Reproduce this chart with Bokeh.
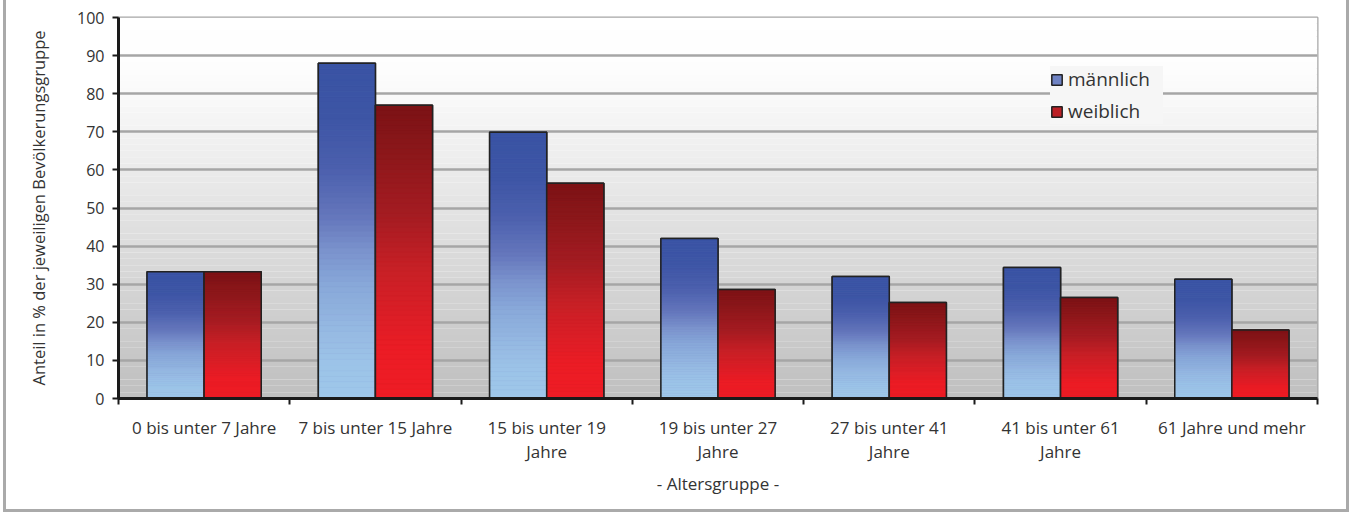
import numpy as np
from bokeh.plotting import figure
from bokeh.models import Range1d, FixedTicker, BoxAnnotation, Legend, LegendItem
from bokeh.embed import file_html
from bokeh.resources import INLINE

# ---------------- data ----------------
categories = [
    "0 bis unter 7 Jahre",
    "7 bis unter 15 Jahre",
    "15 bis unter 19\nJahre",
    "19 bis unter 27\nJahre",
    "27 bis unter 41\nJahre",
    "41 bis unter 61\nJahre",
    "61 Jahre und mehr",
]
maennlich = [33.3, 88.0, 69.9, 42.0, 32.0, 34.4, 31.3]
weiblich = [33.3, 77.0, 56.5, 28.6, 25.2, 26.5, 18.0]
series_names = ["männlich", "weiblich"]
y_ticks = [0, 10, 20, 30, 40, 50, 60, 70, 80, 90, 100]
x_title = "- Altersgruppe -"
y_title = "Anteil in % der jeweiligen Bevölkerungsgruppe"

# ---------------- style ----------------
FONT = "Open Sans"
TEXT = "#333333"
blue_stops = [(0.0, "#9fc7ea"), (0.1, "#9cc4e8"), (0.19, "#97bbe3"), (0.34, "#88a8d9"),
              (0.44, "#7b93cd"), (0.54, "#6577bc"), (0.69, "#4b5fad"), (0.84, "#3d55a5"),
              (1.0, "#3953a4")]
red_stops = [(0.0, "#ee1c25"), (0.16, "#ec1c25"), (0.28, "#dc1e26"), (0.45, "#c62026"),
             (0.62, "#a51c22"), (0.85, "#8a171a"), (1.0, "#7b1215")]
bg_stops = [(0.0, "#bfbfbf"), (0.85, "#fdfdfd"), (1.0, "#ffffff")]


def hex2rgb(h):
    return np.array([int(h[i:i + 2], 16) for i in (1, 3, 5)], dtype=float)


def interp(stops, f):
    for (f0, c0), (f1, c1) in zip(stops[:-1], stops[1:]):
        if f0 <= f <= f1:
            t = 0 if f1 == f0 else (f - f0) / (f1 - f0)
            c = hex2rgb(c0) * (1 - t) + hex2rgb(c1) * t
            return "#%02x%02x%02x" % tuple(int(round(v)) for v in c)
    return stops[-1][1]


n = len(categories)
centers = [i + 0.5 for i in range(n)]
bounds = list(range(n + 1))
bar_w = 1.0 / 3.0

p = figure(width=1346, height=512, output_backend="svg", toolbar_location=None,
           x_range=Range1d(0, n), y_range=Range1d(y_ticks[0], y_ticks[-1]),
           min_border_left=112, min_border_right=35, min_border_top=17, min_border_bottom=114,
           background_fill_color="#ffffff", border_fill_color="#ffffff",
           styles={"margin-left": "3px",
                   "border-left": "3px solid #aaaaaa", "border-right": "3px solid #aaaaaa",
                   "border-bottom": "3px solid #aaaaaa"})
p.outline_line_color = "#a6a6a6"
p.outline_line_width = 2

# background gradient
NB = 60
ymin, ymax = y_ticks[0], y_ticks[-1]
for k in range(NB):
    b = ymin + (ymax - ymin) * k / NB
    t = ymin + (ymax - ymin) * (k + 1) / NB
    p.add_layout(BoxAnnotation(bottom=b, top=t, fill_color=interp(bg_stops, (k + 0.5) / NB),
                               fill_alpha=1.0, line_alpha=0, level="image"))

# bars with gradient
legend_items = []
NS = 60
for s, (vals, stops, off, name) in enumerate(zip([maennlich, weiblich], [blue_stops, red_stops],
                                                  [-bar_w / 2, bar_w / 2], series_names)):
    xs = [c + off for c in centers]
    base = p.vbar(x=xs, top=vals, width=bar_w, bottom=0,
                  fill_color=interp(stops, 0.5), line_color="#222222", line_width=1.5)
    L, R, B, T, C = [], [], [], [], []
    for x, v in zip(xs, vals):
        for k in range(NS):
            L.append(x - bar_w / 2)
            R.append(x + bar_w / 2)
            B.append(v * k / NS)
            T.append(v * (k + 1) / NS)
            C.append(interp(stops, (k + 0.5) / NS))
    p.quad(left=L, right=R, bottom=B, top=T, fill_color=C, line_color=C, line_width=0.6)
    p.vbar(x=xs, top=vals, width=bar_w, bottom=0, fill_alpha=0,
           line_color="#222222", line_width=1.5)
    legend_items.append(LegendItem(label=name, renderers=[base]))

# grid
p.xgrid.visible = False
p.ygrid.ticker = FixedTicker(ticks=y_ticks)
p.ygrid.grid_line_color = "#a6a6a6"
p.ygrid.grid_line_width = 2.5

# y axis
ya = p.yaxis[0]
ya.ticker = FixedTicker(ticks=y_ticks, minor_ticks=[])
ya.axis_line_color = "#1a1a1a"
ya.axis_line_width = 3
ya.major_tick_line_color = "#1a1a1a"
ya.major_tick_line_width = 2
ya.major_tick_out = 6
ya.major_tick_in = 0
ya.minor_tick_line_color = None
ya.major_label_standoff = 8
ya.major_label_text_font = FONT
ya.major_label_text_font_size = "16px"
ya.major_label_text_color = TEXT
ya.axis_label = y_title
ya.axis_label_text_font = FONT
ya.axis_label_text_font_size = "16.5px"
ya.axis_label_text_font_style = "normal"
ya.axis_label_text_color = TEXT
ya.axis_label_standoff = 24

# x axis
xa = p.xaxis[0]
xa.ticker = FixedTicker(ticks=centers, minor_ticks=bounds)
xa.major_label_overrides = {c: lab for c, lab in zip(centers, categories)}
xa.axis_line_color = "#1a1a1a"
xa.axis_line_width = 3
xa.major_tick_line_color = None
xa.major_tick_out = 0
xa.major_tick_in = 0
xa.minor_tick_line_color = "#1a1a1a"
xa.minor_tick_line_width = 2
xa.minor_tick_out = 6
xa.minor_tick_in = 0
xa.major_label_standoff = 11
xa.major_label_text_font = FONT
xa.major_label_text_font_size = "17px"
xa.major_label_text_line_height = 1.05
xa.major_label_text_color = TEXT
xa.axis_label = x_title
xa.axis_label_text_font = FONT
xa.axis_label_text_font_size = "17px"
xa.axis_label_text_font_style = "normal"
xa.axis_label_text_color = TEXT
xa.axis_label_standoff = 6

legend = Legend(items=legend_items, location=(932, 274), orientation="vertical",
                label_text_font=FONT, label_text_font_size="19px", label_text_color=TEXT,
                glyph_width=13, glyph_height=13, label_height=20, label_width=95,
                label_standoff=5, spacing=6, padding=10, margin=0,
                border_line_color=None, background_fill_color="#f6f6f6", background_fill_alpha=1.0)
p.add_layout(legend)

open("out.html", "w").write(file_html(p, INLINE))
